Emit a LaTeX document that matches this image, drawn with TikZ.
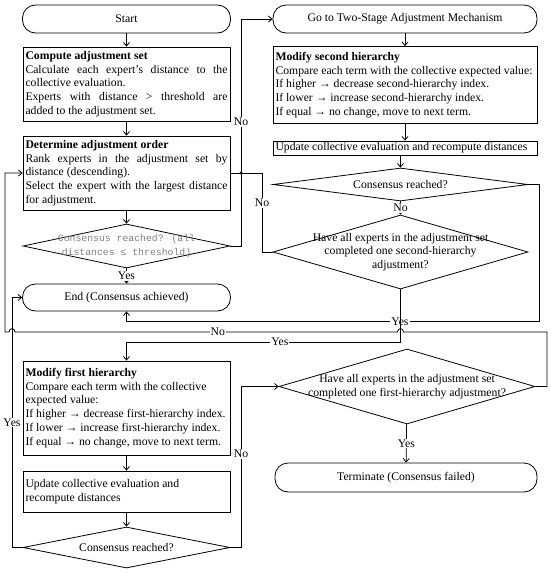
\documentclass[tikz,border=0pt]{standalone}
\usepackage{fontspec}
\setmainfont{Liberation Serif}
\newfontfamily\dmono{Liberation Mono}
\usetikzlibrary{arrows.meta,shapes.geometric}
\newcommand\jline[1]{\leavevmode\hbox to \hsize{\spaceskip=0.25em plus 4em\relax #1}}
\begin{document}
\begin{tikzpicture}[x=1pt,y=-1pt,
  every node/.style={font=\fontsize{11.7}{13.8}\selectfont},
  line/.style={draw, line width=0.8pt},
  arr/.style={line, -{Straight Barb[length=3.5pt,width=6pt]}},
  box/.style={draw, line width=0.8pt, rectangle, text width=#1, inner xsep=2.5pt, inner ysep=2pt, align=left,
    execute at begin node={\spaceskip=0pt\xspaceskip=0pt\relax}},
  term/.style={draw, line width=0.8pt, rectangle, rounded corners=13pt, minimum width=#1, minimum height=28pt, align=center},
  dia/.style 2 args={draw, line width=0.8pt, diamond, minimum width=#1, minimum height=#2, inner sep=0pt},
  dtext/.style={align=center, inner sep=0pt, execute at begin node={\spaceskip=0pt\xspaceskip=0pt\relax}},
  lab/.style={fill=white, inner sep=1pt},
]
\useasboundingbox (0,0) rectangle (550,573);

% left column
\node[term=208pt] (start) at (126.5,19) {Start};
\node[box=202pt, minimum height=74pt] (compute) at (126.5,84) {\textbf{Compute adjustment set}\\
\jline{Calculate each expert’s distance to the}\\
collective evaluation.\\
\jline{Experts with distance > threshold are}\\
added to the adjustment set.};
\node[box=202pt, minimum height=74pt] (determine) at (126.5,173) {\textbf{Determine adjustment order}\\
\jline{Rank experts in the adjustment set by}\\
distance (descending).\\
\jline{Select the expert with the largest distance}\\
for adjustment.};
\node[dia={207pt}{44pt}] (d1) at (126.5,246) {};
\node[dtext, text=gray, font=\dmono\fontsize{9.8}{14.5}\selectfont] (d1t) at (d1.center) {Consensus reached? (all\\distances ≤ threshold)};
\node[term=208pt, minimum height=27pt] (end) at (126.5,297.5) {End (Consensus achieved)};

% right column
\node[term=264pt] (go) at (405,19) {Go to Two-Stage Adjustment Mechanism};
\node[box=259pt, minimum height=77pt] (mod2) at (405,85) {\textbf{Modify second hierarchy}\\
Compare each term with the collective expected value:\\
If higher → decrease second-hierarchy index.\\
If lower → increase second-hierarchy index.\\
If equal → no change, move to next term.};
\node[box=259pt, minimum height=14pt, inner ysep=0.5pt] (upd2) at (405,148) {Update collective evaluation and recompute distances};
\node[dia={255pt}{33pt}] (d2) at (400.5,184.5) {};
\node[dtext] (d2t) at (d2.center) {Consensus reached?};
\node[dia={255pt}{74pt}] (d3) at (400.5,252) {};
\node[dtext] (d3t) at (d3.center) {Have all experts in the adjustment set\\completed one second-hierarchy\\adjustment?};

% lower part
\node[box=202pt, minimum height=94pt] (mod1) at (126.5,408) {\textbf{Modify first hierarchy}\\
Compare each term with the collective\\
expected value:\\
If higher → decrease first-hierarchy index.\\
If lower → increase first-hierarchy index.\\
If equal → no change, move to next term.};
\node[box=202pt, minimum height=41pt] (upd1) at (126.5,491.5) {Update collective evaluation and\\recompute distances};
\node[dia={207pt}{41pt}] (d5) at (126.5,547.5) {};
\node[dtext] (d5t) at (d5.center) {Consensus reached?};
\node[dia={256pt}{75pt}] (d4) at (407,386.5) {};
\node[dtext] (d4t) at (d4.center) {Have all experts in the adjustment set\\completed one first-hierarchy adjustment?};
\node[term=262pt, minimum height=29pt] (term) at (406,477.5) {Terminate (Consensus failed)};

% helper coordinates
\coordinate (c0) at (12,0);
\coordinate (c1) at (241,0);
\coordinate (c2) at (262,0);
\coordinate (r1) at (539,321.5);
\coordinate (r2) at (400.5,342);
\coordinate (r3) at (547,332);
\coordinate (l3) at (5,332);

% connectors
\draw[arr] (start) -- (compute);
\draw[arr] (compute) -- (determine);
\draw[arr] (determine) -- (d1);
\draw[arr] (d1) -- node[lab]{Yes} (end);
\draw[arr] (d1.east) -- (d1.east -| c1) -- node[lab, pos=0.546]{No} (go.west -| c1) -- (go.west);
\draw[arr] (go) -- (mod2);
\draw[arr] (mod2) -- (upd2);
\draw[arr] (upd2.south -| d2.north) -- (d2.north);
\draw[arr] (d2) -- node[lab]{No} (d3);
\draw[arr] (d2.east) -| (r1) -- node[lab, pos=0.337]{Yes} (r1 -| end.south) -- (end.south);
\draw[line] (d3.west) -- (d3.west -| c2) -- node[lab, pos=0.62]{No} (determine.east -| c2) -- (determine.east);
\fill (determine.east -| c1) circle[radius=1.6pt];
\draw[arr] (d3.south) -- (r2) -- node[lab, pos=0.44]{Yes} (r2 -| mod1.north) -- (mod1.north);
\draw[arr] (mod1) -- (upd1);
\draw[arr] (upd1) -- (d5);
\draw[arr] (d5.east) -- (d5.east -| c1) -- node[lab, pos=0.58]{No} (d4.west -| c1) -- (d4.west);
\draw[arr] (d5.west) -- (d5.west -| c0) -- node[lab, pos=0.5]{Yes} (end.west -| c0) -- (end.west);
\draw[arr] (d4) -- node[lab]{Yes} (term);
\draw[arr] (d4.east) -| (r3) -- (403.5,332) .. controls (403.5,327.5) and (397.5,327.5) .. (397.5,332)
  -- node[lab, pos=0.47]{No} (15,332) .. controls (15,327.5) and (9,327.5) .. (9,332) -- (l3) |- (determine.west);
\end{tikzpicture}
\end{document}
